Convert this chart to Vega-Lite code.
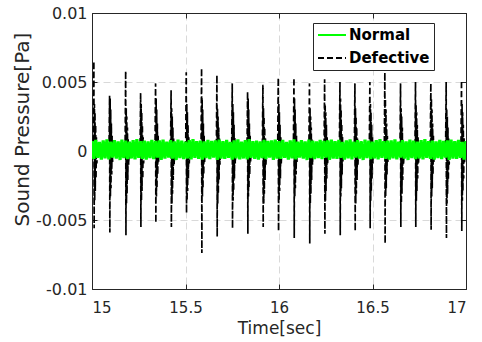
{
"$schema": "https://vega.github.io/schema/vega-lite/v6.json",
"width": 374, "height": 276,
"autosize": "none",
"padding": {"left": 92, "top": 13, "right": 16, "bottom": 53},
"background": "white",
"config": {
  "view": {"stroke": "#262626", "strokeWidth": 1},
  "axis": {"labelFont": "DejaVu Sans", "titleFont": "DejaVu Sans", "labelColor": "#262626", "titleColor": "#262626", "tickColor": "#262626", "domain": true, "domainColor": "#262626", "domainWidth": 1, "titleFontWeight": "normal", "gridColor": "#d9d9d9", "gridDash": [7, 4], "gridWidth": 1, "tickSize": -5, "tickWidth": 1, "zindex": 1}
},
"datasets": {
"def": [
{"t":15.000,"p":0.0001},
{"t":15.007,"p":0.0002},{"t":15.010,"p":0.0065},{"t":15.0115,"p":-0.0056},{"t":15.013,"p":0.0034},{"t":15.0145,"p":-0.0036},{"t":15.016,"p":0.0028},{"t":15.0175,"p":-0.0029},{"t":15.0195,"p":0.0019},{"t":15.0215,"p":-0.0020},{"t":15.0235,"p":0.0010},{"t":15.026,"p":-0.0009},{"t":15.029,"p":0.0001},
{"t":15.091,"p":0.0002},{"t":15.094,"p":0.0040},{"t":15.0955,"p":-0.0059},{"t":15.097,"p":0.0038},{"t":15.0985,"p":-0.0033},{"t":15.100,"p":0.0030},{"t":15.1015,"p":-0.0027},{"t":15.1035,"p":0.0020},{"t":15.1055,"p":-0.0017},{"t":15.1075,"p":0.0011},{"t":15.110,"p":-0.0008},{"t":15.113,"p":0.0001},
{"t":15.177,"p":0.0002},{"t":15.180,"p":0.0058},{"t":15.1815,"p":-0.0061},{"t":15.183,"p":0.0031},{"t":15.1845,"p":-0.0038},{"t":15.186,"p":0.0025},{"t":15.1875,"p":-0.0031},{"t":15.1895,"p":0.0017},{"t":15.1915,"p":-0.0021},{"t":15.1935,"p":0.0009},{"t":15.196,"p":-0.0010},{"t":15.199,"p":0.0001},
{"t":15.257,"p":0.0002},{"t":15.260,"p":0.0042},{"t":15.2615,"p":-0.0055},{"t":15.263,"p":0.0034},{"t":15.2645,"p":-0.0036},{"t":15.266,"p":0.0028},{"t":15.2675,"p":-0.0029},{"t":15.2695,"p":0.0019},{"t":15.2715,"p":-0.0020},{"t":15.2735,"p":0.0010},{"t":15.276,"p":-0.0009},{"t":15.279,"p":0.0001},
{"t":15.337,"p":0.0002},{"t":15.340,"p":0.0049},{"t":15.3415,"p":-0.0052},{"t":15.343,"p":0.0038},{"t":15.3445,"p":-0.0033},{"t":15.346,"p":0.0030},{"t":15.3475,"p":-0.0027},{"t":15.3495,"p":0.0020},{"t":15.3515,"p":-0.0017},{"t":15.3535,"p":0.0011},{"t":15.356,"p":-0.0008},{"t":15.359,"p":0.0001},
{"t":15.420,"p":0.0002},{"t":15.423,"p":0.0044},{"t":15.4245,"p":-0.0055},{"t":15.426,"p":0.0031},{"t":15.4275,"p":-0.0038},{"t":15.429,"p":0.0025},{"t":15.4305,"p":-0.0031},{"t":15.4325,"p":0.0017},{"t":15.4345,"p":-0.0021},{"t":15.4365,"p":0.0009},{"t":15.439,"p":-0.0010},{"t":15.442,"p":0.0001},
{"t":15.501,"p":0.0002},{"t":15.504,"p":0.0057},{"t":15.5055,"p":-0.0045},{"t":15.507,"p":0.0034},{"t":15.5085,"p":-0.0036},{"t":15.510,"p":0.0028},{"t":15.5115,"p":-0.0029},{"t":15.5135,"p":0.0019},{"t":15.5155,"p":-0.0020},{"t":15.5175,"p":0.0010},{"t":15.520,"p":-0.0009},{"t":15.523,"p":0.0001},
{"t":15.583,"p":0.0002},{"t":15.586,"p":0.0060},{"t":15.5875,"p":-0.0074},{"t":15.589,"p":0.0038},{"t":15.5905,"p":-0.0033},{"t":15.592,"p":0.0030},{"t":15.5935,"p":-0.0027},{"t":15.5955,"p":0.0020},{"t":15.5975,"p":-0.0017},{"t":15.5995,"p":0.0011},{"t":15.602,"p":-0.0008},{"t":15.605,"p":0.0001},
{"t":15.665,"p":0.0002},{"t":15.668,"p":0.0055},{"t":15.6695,"p":-0.0062},{"t":15.671,"p":0.0031},{"t":15.6725,"p":-0.0038},{"t":15.674,"p":0.0025},{"t":15.6755,"p":-0.0031},{"t":15.6775,"p":0.0017},{"t":15.6795,"p":-0.0021},{"t":15.6815,"p":0.0009},{"t":15.684,"p":-0.0010},{"t":15.687,"p":0.0001},
{"t":15.747,"p":0.0002},{"t":15.750,"p":0.0049},{"t":15.7515,"p":-0.0056},{"t":15.753,"p":0.0034},{"t":15.7545,"p":-0.0036},{"t":15.756,"p":0.0028},{"t":15.7575,"p":-0.0029},{"t":15.7595,"p":0.0019},{"t":15.7615,"p":-0.0020},{"t":15.7635,"p":0.0010},{"t":15.766,"p":-0.0009},{"t":15.769,"p":0.0001},
{"t":15.829,"p":0.0002},{"t":15.832,"p":0.0043},{"t":15.8335,"p":-0.0060},{"t":15.835,"p":0.0038},{"t":15.8365,"p":-0.0033},{"t":15.838,"p":0.0030},{"t":15.8395,"p":-0.0027},{"t":15.8415,"p":0.0020},{"t":15.8435,"p":-0.0017},{"t":15.8455,"p":0.0011},{"t":15.848,"p":-0.0008},{"t":15.851,"p":0.0001},
{"t":15.911,"p":0.0002},{"t":15.914,"p":0.0048},{"t":15.9155,"p":-0.0055},{"t":15.917,"p":0.0031},{"t":15.9185,"p":-0.0038},{"t":15.920,"p":0.0025},{"t":15.9215,"p":-0.0031},{"t":15.9235,"p":0.0017},{"t":15.9255,"p":-0.0021},{"t":15.9275,"p":0.0009},{"t":15.930,"p":-0.0010},{"t":15.933,"p":0.0001},
{"t":15.993,"p":0.0002},{"t":15.996,"p":0.0053},{"t":15.9975,"p":-0.0058},{"t":15.999,"p":0.0034},{"t":16.0005,"p":-0.0036},{"t":16.002,"p":0.0028},{"t":16.0035,"p":-0.0029},{"t":16.0055,"p":0.0019},{"t":16.0075,"p":-0.0020},{"t":16.0095,"p":0.0010},{"t":16.012,"p":-0.0009},{"t":16.015,"p":0.0001},
{"t":16.077,"p":0.0002},{"t":16.080,"p":0.0053},{"t":16.0815,"p":-0.0063},{"t":16.083,"p":0.0038},{"t":16.0845,"p":-0.0033},{"t":16.086,"p":0.0030},{"t":16.0875,"p":-0.0027},{"t":16.0895,"p":0.0020},{"t":16.0915,"p":-0.0017},{"t":16.0935,"p":0.0011},{"t":16.096,"p":-0.0008},{"t":16.099,"p":0.0001},
{"t":16.160,"p":0.0002},{"t":16.163,"p":0.0049},{"t":16.1645,"p":-0.0067},{"t":16.166,"p":0.0031},{"t":16.1675,"p":-0.0038},{"t":16.169,"p":0.0025},{"t":16.1705,"p":-0.0031},{"t":16.1725,"p":0.0017},{"t":16.1745,"p":-0.0021},{"t":16.1765,"p":0.0009},{"t":16.179,"p":-0.0010},{"t":16.182,"p":0.0001},
{"t":16.241,"p":0.0002},{"t":16.244,"p":0.0052},{"t":16.2455,"p":-0.0060},{"t":16.247,"p":0.0034},{"t":16.2485,"p":-0.0036},{"t":16.250,"p":0.0028},{"t":16.2515,"p":-0.0029},{"t":16.2535,"p":0.0019},{"t":16.2555,"p":-0.0020},{"t":16.2575,"p":0.0010},{"t":16.260,"p":-0.0009},{"t":16.263,"p":0.0001},
{"t":16.323,"p":0.0002},{"t":16.326,"p":0.0050},{"t":16.3275,"p":-0.0061},{"t":16.329,"p":0.0038},{"t":16.3305,"p":-0.0033},{"t":16.332,"p":0.0030},{"t":16.3335,"p":-0.0027},{"t":16.3355,"p":0.0020},{"t":16.3375,"p":-0.0017},{"t":16.3395,"p":0.0011},{"t":16.342,"p":-0.0008},{"t":16.345,"p":0.0001},
{"t":16.403,"p":0.0002},{"t":16.406,"p":0.0049},{"t":16.4075,"p":-0.0058},{"t":16.409,"p":0.0031},{"t":16.4105,"p":-0.0038},{"t":16.412,"p":0.0025},{"t":16.4135,"p":-0.0031},{"t":16.4155,"p":0.0017},{"t":16.4175,"p":-0.0021},{"t":16.4195,"p":0.0009},{"t":16.422,"p":-0.0010},{"t":16.425,"p":0.0001},
{"t":16.483,"p":0.0002},{"t":16.486,"p":0.0050},{"t":16.4875,"p":-0.0056},{"t":16.489,"p":0.0034},{"t":16.4905,"p":-0.0036},{"t":16.492,"p":0.0028},{"t":16.4935,"p":-0.0029},{"t":16.4955,"p":0.0019},{"t":16.4975,"p":-0.0020},{"t":16.4995,"p":0.0010},{"t":16.502,"p":-0.0009},{"t":16.505,"p":0.0001},
{"t":16.563,"p":0.0002},{"t":16.566,"p":0.0057},{"t":16.5675,"p":-0.0067},{"t":16.569,"p":0.0038},{"t":16.5705,"p":-0.0033},{"t":16.572,"p":0.0030},{"t":16.5735,"p":-0.0027},{"t":16.5755,"p":0.0020},{"t":16.5775,"p":-0.0017},{"t":16.5795,"p":0.0011},{"t":16.582,"p":-0.0008},{"t":16.585,"p":0.0001},
{"t":16.647,"p":0.0002},{"t":16.650,"p":0.0049},{"t":16.6515,"p":-0.0055},{"t":16.653,"p":0.0031},{"t":16.6545,"p":-0.0038},{"t":16.656,"p":0.0025},{"t":16.6575,"p":-0.0031},{"t":16.6595,"p":0.0017},{"t":16.6615,"p":-0.0021},{"t":16.6635,"p":0.0009},{"t":16.666,"p":-0.0010},{"t":16.669,"p":0.0001},
{"t":16.727,"p":0.0002},{"t":16.730,"p":0.0050},{"t":16.7315,"p":-0.0055},{"t":16.733,"p":0.0034},{"t":16.7345,"p":-0.0036},{"t":16.736,"p":0.0028},{"t":16.7375,"p":-0.0029},{"t":16.7395,"p":0.0019},{"t":16.7415,"p":-0.0020},{"t":16.7435,"p":0.0010},{"t":16.746,"p":-0.0009},{"t":16.749,"p":0.0001},
{"t":16.809,"p":0.0002},{"t":16.812,"p":0.0049},{"t":16.8135,"p":-0.0057},{"t":16.815,"p":0.0038},{"t":16.8165,"p":-0.0033},{"t":16.818,"p":0.0030},{"t":16.8195,"p":-0.0027},{"t":16.8215,"p":0.0020},{"t":16.8235,"p":-0.0017},{"t":16.8255,"p":0.0011},{"t":16.828,"p":-0.0008},{"t":16.831,"p":0.0001},
{"t":16.891,"p":0.0002},{"t":16.894,"p":0.0050},{"t":16.8955,"p":-0.0063},{"t":16.897,"p":0.0031},{"t":16.8985,"p":-0.0038},{"t":16.900,"p":0.0025},{"t":16.9015,"p":-0.0031},{"t":16.9035,"p":0.0017},{"t":16.9055,"p":-0.0021},{"t":16.9075,"p":0.0009},{"t":16.910,"p":-0.0010},{"t":16.913,"p":0.0001},
{"t":16.973,"p":0.0002},{"t":16.976,"p":0.0051},{"t":16.9775,"p":-0.0058},{"t":16.979,"p":0.0034},{"t":16.9805,"p":-0.0036},{"t":16.982,"p":0.0028},{"t":16.9835,"p":-0.0029},{"t":16.9855,"p":0.0019},{"t":16.9875,"p":-0.0020},{"t":16.9895,"p":0.0010},{"t":16.992,"p":-0.0009},{"t":16.995,"p":0.0001},
{"t":17.000,"p":0.0001}
],
"nor": [
{"t":15.00,"p":0.00072},{"t":15.01,"p":-0.00057},{"t":15.02,"p":0.00080},{"t":15.03,"p":-0.00050},{"t":15.04,"p":0.00065},{"t":15.05,"p":-0.00063},{"t":15.06,"p":0.00076},{"t":15.07,"p":-0.00053},{"t":15.08,"p":0.00084},{"t":15.09,"p":-0.00060},
{"t":15.10,"p":0.00068},{"t":15.11,"p":-0.00047},{"t":15.12,"p":0.00078},{"t":15.13,"p":-0.00055},{"t":15.14,"p":0.00070},{"t":15.15,"p":-0.00065},{"t":15.16,"p":0.00082},{"t":15.17,"p":-0.00051},{"t":15.18,"p":0.00074},{"t":15.19,"p":-0.00058},
{"t":15.20,"p":0.00067},{"t":15.21,"p":-0.00054},{"t":15.22,"p":0.00079},{"t":15.23,"p":-0.00061},{"t":15.24,"p":0.00086},{"t":15.25,"p":-0.00049},{"t":15.26,"p":0.00071},{"t":15.27,"p":-0.00056},{"t":15.28,"p":0.00075},{"t":15.29,"p":-0.00062},
{"t":15.30,"p":0.00069},{"t":15.31,"p":-0.00052},{"t":15.32,"p":0.00081},{"t":15.33,"p":-0.00059},{"t":15.34,"p":0.00073},{"t":15.35,"p":-0.00048},{"t":15.36,"p":0.00077},{"t":15.37,"p":-0.00064},{"t":15.38,"p":0.00083},{"t":15.39,"p":-0.00055},
{"t":15.40,"p":0.00068},{"t":15.41,"p":-0.00047},{"t":15.42,"p":0.00078},{"t":15.43,"p":-0.00055},{"t":15.44,"p":0.00070},{"t":15.45,"p":-0.00065},{"t":15.46,"p":0.00082},{"t":15.47,"p":-0.00051},{"t":15.48,"p":0.00074},{"t":15.49,"p":-0.00058},
{"t":15.50,"p":0.00067},{"t":15.51,"p":-0.00054},{"t":15.52,"p":0.00079},{"t":15.53,"p":-0.00061},{"t":15.54,"p":0.00086},{"t":15.55,"p":-0.00049},{"t":15.56,"p":0.00071},{"t":15.57,"p":-0.00056},{"t":15.58,"p":0.00075},{"t":15.59,"p":-0.00062},
{"t":15.60,"p":0.00069},{"t":15.61,"p":-0.00052},{"t":15.62,"p":0.00081},{"t":15.63,"p":-0.00059},{"t":15.64,"p":0.00073},{"t":15.65,"p":-0.00048},{"t":15.66,"p":0.00077},{"t":15.67,"p":-0.00064},{"t":15.68,"p":0.00083},{"t":15.69,"p":-0.00055},
{"t":15.70,"p":0.00072},{"t":15.71,"p":-0.00057},{"t":15.72,"p":0.00080},{"t":15.73,"p":-0.00050},{"t":15.74,"p":0.00065},{"t":15.75,"p":-0.00063},{"t":15.76,"p":0.00076},{"t":15.77,"p":-0.00053},{"t":15.78,"p":0.00084},{"t":15.79,"p":-0.00060},
{"t":15.80,"p":0.00067},{"t":15.81,"p":-0.00054},{"t":15.82,"p":0.00079},{"t":15.83,"p":-0.00061},{"t":15.84,"p":0.00086},{"t":15.85,"p":-0.00049},{"t":15.86,"p":0.00071},{"t":15.87,"p":-0.00056},{"t":15.88,"p":0.00075},{"t":15.89,"p":-0.00062},
{"t":15.90,"p":0.00069},{"t":15.91,"p":-0.00052},{"t":15.92,"p":0.00081},{"t":15.93,"p":-0.00059},{"t":15.94,"p":0.00073},{"t":15.95,"p":-0.00048},{"t":15.96,"p":0.00077},{"t":15.97,"p":-0.00064},{"t":15.98,"p":0.00083},{"t":15.99,"p":-0.00055},
{"t":16.00,"p":0.00072},{"t":16.01,"p":-0.00057},{"t":16.02,"p":0.00080},{"t":16.03,"p":-0.00050},{"t":16.04,"p":0.00065},{"t":16.05,"p":-0.00063},{"t":16.06,"p":0.00076},{"t":16.07,"p":-0.00053},{"t":16.08,"p":0.00084},{"t":16.09,"p":-0.00060},
{"t":16.10,"p":0.00068},{"t":16.11,"p":-0.00047},{"t":16.12,"p":0.00078},{"t":16.13,"p":-0.00055},{"t":16.14,"p":0.00070},{"t":16.15,"p":-0.00065},{"t":16.16,"p":0.00082},{"t":16.17,"p":-0.00051},{"t":16.18,"p":0.00074},{"t":16.19,"p":-0.00058},
{"t":16.20,"p":0.00069},{"t":16.21,"p":-0.00052},{"t":16.22,"p":0.00081},{"t":16.23,"p":-0.00059},{"t":16.24,"p":0.00073},{"t":16.25,"p":-0.00048},{"t":16.26,"p":0.00077},{"t":16.27,"p":-0.00064},{"t":16.28,"p":0.00083},{"t":16.29,"p":-0.00055},
{"t":16.30,"p":0.00072},{"t":16.31,"p":-0.00057},{"t":16.32,"p":0.00080},{"t":16.33,"p":-0.00050},{"t":16.34,"p":0.00065},{"t":16.35,"p":-0.00063},{"t":16.36,"p":0.00076},{"t":16.37,"p":-0.00053},{"t":16.38,"p":0.00084},{"t":16.39,"p":-0.00060},
{"t":16.40,"p":0.00068},{"t":16.41,"p":-0.00047},{"t":16.42,"p":0.00078},{"t":16.43,"p":-0.00055},{"t":16.44,"p":0.00070},{"t":16.45,"p":-0.00065},{"t":16.46,"p":0.00082},{"t":16.47,"p":-0.00051},{"t":16.48,"p":0.00074},{"t":16.49,"p":-0.00058},
{"t":16.50,"p":0.00067},{"t":16.51,"p":-0.00054},{"t":16.52,"p":0.00079},{"t":16.53,"p":-0.00061},{"t":16.54,"p":0.00086},{"t":16.55,"p":-0.00049},{"t":16.56,"p":0.00071},{"t":16.57,"p":-0.00056},{"t":16.58,"p":0.00075},{"t":16.59,"p":-0.00062},
{"t":16.60,"p":0.00076},{"t":16.61,"p":-0.00053},{"t":16.62,"p":0.00084},{"t":16.63,"p":-0.00060},{"t":16.64,"p":0.00068},{"t":16.65,"p":-0.00047},{"t":16.66,"p":0.00078},{"t":16.67,"p":-0.00055},{"t":16.68,"p":0.00070},{"t":16.69,"p":-0.00065},
{"t":16.70,"p":0.00082},{"t":16.71,"p":-0.00051},{"t":16.72,"p":0.00074},{"t":16.73,"p":-0.00058},{"t":16.74,"p":0.00067},{"t":16.75,"p":-0.00054},{"t":16.76,"p":0.00079},{"t":16.77,"p":-0.00061},{"t":16.78,"p":0.00086},{"t":16.79,"p":-0.00049},
{"t":16.80,"p":0.00071},{"t":16.81,"p":-0.00056},{"t":16.82,"p":0.00075},{"t":16.83,"p":-0.00062},{"t":16.84,"p":0.00069},{"t":16.85,"p":-0.00052},{"t":16.86,"p":0.00081},{"t":16.87,"p":-0.00059},{"t":16.88,"p":0.00073},{"t":16.89,"p":-0.00048},
{"t":16.90,"p":0.00077},{"t":16.91,"p":-0.00064},{"t":16.92,"p":0.00083},{"t":16.93,"p":-0.00055},{"t":16.94,"p":0.00072},{"t":16.95,"p":-0.00057},{"t":16.96,"p":0.00080},{"t":16.97,"p":-0.00050},{"t":16.98,"p":0.00065},{"t":16.99,"p":-0.00063},
{"t":17.00,"p":0.00072}
]
},
"layer": [
{
  "data": {"name": "def"},
  "mark": {"type": "line", "strokeWidth": 1.7, "strokeJoin": "bevel", "clip": true},
  "encoding": {
    "x": {"field": "t", "type": "quantitative", "scale": {"domain": [15, 17], "nice": false, "zero": false},
      "axis": {"values": [15, 15.5, 16, 16.5, 17], "labelExpr": "datum.value + ''", "labelFontSize": 15, "labelPadding": 16, "title": "Time[sec]", "titleFontSize": 17, "titleY": 39, "titleBaseline": "middle", "grid": true}},
    "y": {"field": "p", "type": "quantitative", "scale": {"domain": [-0.01, 0.01], "nice": false, "zero": false},
      "axis": {"values": [-0.01, -0.005, 0, 0.005, 0.01], "labelExpr": "datum.value + ''", "labelFontSize": 16, "labelPadding": 10, "title": "Sound Pressure[Pa]", "titleFontSize": 20, "titleX": -70, "titleY": 116, "titleAngle": -90, "titleBaseline": "middle", "titleAlign": "center", "grid": true}},
    "color": {"datum": "Defective", "scale": {"domain": ["Normal", "Defective"], "range": ["#00ff00", "#000000"]},
      "legend": {"title": null, "orient": "none", "legendX": 221, "legendY": 10, "strokeColor": "#262626", "fillColor": "white", "padding": 4, "labelFont": "DejaVu Sans", "labelFontWeight": "bold", "labelFontSize": 15, "labelColor": "#000000", "symbolType": "M-2,0H2", "symbolSize": 196, "symbolStrokeWidth": 2, "symbolOffset": 7, "labelOffset": 9, "rowPadding": 7, "zindex": 2}},
    "strokeDash": {"datum": "Defective", "scale": {"domain": ["Normal", "Defective"], "range": [[1, 0], [6, 3]]}}
  }
},
{
  "data": {"name": "nor"},
  "mark": {"type": "line", "strokeWidth": 3.2, "strokeJoin": "bevel", "clip": true},
  "encoding": {
    "x": {"field": "t", "type": "quantitative", "axis": {"orient": "top", "values": [15, 15.5, 16, 16.5, 17], "labels": false, "title": null, "grid": false}},
    "y": {"field": "p", "type": "quantitative", "axis": {"orient": "right", "values": [-0.01, -0.005, 0, 0.005, 0.01], "labels": false, "title": null, "grid": false}},
    "color": {"datum": "Normal"},
    "strokeDash": {"datum": "Normal"}
  }
}
],
"resolve": {"axis": {"x": "independent", "y": "independent"}}
}
